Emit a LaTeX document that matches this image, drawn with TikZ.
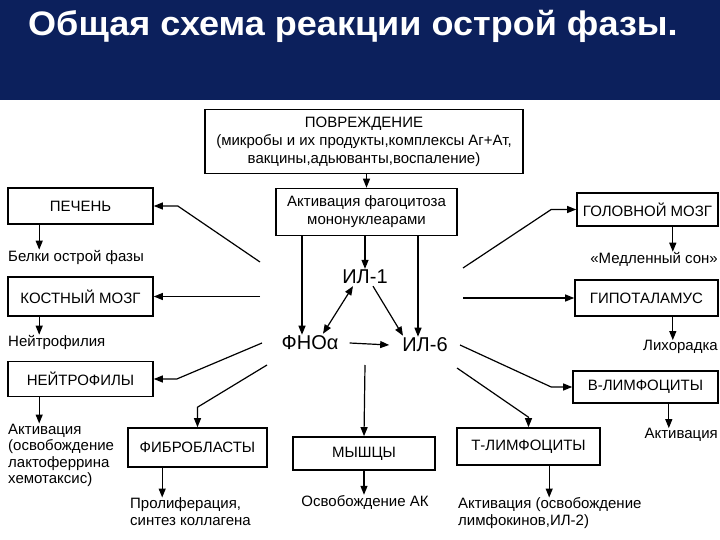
\documentclass[tikz,border=0pt]{standalone}
\usepackage{fontspec}
\setmainfont{Liberation Sans}
\usetikzlibrary{arrows.meta,calc}
\definecolor{navy}{RGB}{12,32,92}
\begin{document}
\begin{tikzpicture}[x=1pt,y=-1pt,
  box/.style={draw, line width=1.6pt, inner sep=0pt, align=center, font=\fontsize{15}{18}\selectfont},
  arr/.style={line width=1.2pt, -{Triangle[length=9pt,width=7pt]}},
  darr/.style={line width=1.2pt, {Triangle[length=9pt,width=7pt]}-{Triangle[length=9pt,width=7pt]}},
  lbl/.style={inner sep=0pt, align=left, font=\fontsize{15}{16.5}\selectfont},
  big/.style={inner sep=1pt, font=\fontsize{20}{24}\selectfont}]
\useasboundingbox (0,0) rectangle (720,540);
\fill[navy] (0,0) rectangle (720,100);
\node[anchor=base west, text=white, inner sep=0pt, font=\fontsize{34}{40}\selectfont\bfseries] (title) at (28,36) {\scalebox{1.06}[1]{Общая схема реакции острой фазы.}};

% boxes
\node[box, minimum width=318pt, minimum height=64pt] (top) at (364,141.5) {ПОВРЕЖДЕНИЕ\\(микробы и их продукты,комплексы Аг+Ат,\\вакцины,адьюванты,воспаление)};
\node[box, minimum width=181pt, minimum height=47pt] (act) at (366.5,212) {Активация фагоцитоза\\мононуклеарами};
\node[box, minimum width=145pt, minimum height=36pt] (pech) at (80.5,206) {ПЕЧЕНЬ};
\node[box, minimum width=145pt, minimum height=39pt] (kost) at (80.5,296.5) {КОСТНЫЙ МОЗГ};
\node[box, minimum width=145pt, minimum height=35pt] (neit) at (80.5,379) {НЕЙТРОФИЛЫ};
\node[box, minimum width=139pt, minimum height=39pt] (fib) at (197.5,447.5) {ФИБРОБЛАСТЫ};
\node[box, minimum width=142pt, minimum height=33pt] (mysh) at (364,453.5) {МЫШЦЫ};
\node[box, minimum width=143pt, minimum height=37pt] (tlim) at (528.5,446.5) {Т-ЛИМФОЦИТЫ};
\node[box, minimum width=141pt, minimum height=33pt] (golov) at (647.5,209.5) {ГОЛОВНОЙ МОЗГ};
\node[box, minimum width=143pt, minimum height=36pt] (gipo) at (646.5,298) {ГИПОТАЛАМУС};
\node[box, minimum width=145pt, minimum height=32pt] (blim) at (645.5,387) {В-ЛИМФОЦИТЫ};

% center labels
\node[big] (il1) at (365,277) {ИЛ-1};
\node[big] (fno) at (310,343) {ФНОα};
\node[big] (il6) at (425,345) {ИЛ-6};

% outcome texts
\node[lbl, anchor=west] (bel) at (8,257) {Белки острой фазы};
\node[lbl, anchor=west] (neu) at (8,342) {Нейтрофилия};
\node[lbl, anchor=north west] (nact) at (8,423.5) {Активация\\(освобождение\\лактоферрина\\хемотаксис)};
\node[lbl, anchor=north west] (prol) at (130,497.5) {Пролиферация,\\синтез коллагена};
\node[lbl] (osv) at (365,502) {Освобождение АК};
\node[lbl, anchor=north west] (tact) at (458,497.5) {Активация (освобождение\\лимфокинов,ИЛ-2)};
\node[lbl, anchor=east] (sleep) at (718,259) {«Медленный сон»};
\node[lbl, anchor=east] (lih) at (718,347) {Лихорадка};
\node[lbl, anchor=east] (bact) at (718,435) {Активация};

% free start points of radiating connectors
\coordinate (sp) at (260,262);
\coordinate (sk) at (260,296.5);
\coordinate (sn) at (262,343);
\coordinate (sf) at (267,365);
\coordinate (sg) at (463,268);
\coordinate (sh) at (463,298);
\coordinate (sb) at (460,345);
\coordinate (st) at (457,368);
\coordinate (sm) at (365,365);

% main flow
\draw[arr] (top.south -| act.north) -- (act.north);
\draw[arr] (act.south -| il1.north) -- (il1.north);
\draw[arr] ([xshift=-8pt]act.south -| fno.north) -- ([xshift=-8pt]fno.north);
\draw[arr] ([xshift=-7pt]act.south -| il6.north) -- ([xshift=-7pt]il6.north);
\draw[darr] ([shift={(-12pt,-1pt)}]il1.south) -- ([shift={(13pt,1pt)}]fno.north);
\draw[arr] ([shift={(8pt,-1pt)}]il1.south) -- ([shift={(-22pt,1pt)}]il6.north);
\draw[arr] (fno.east) ++(10pt,0) -- ([xshift=-12pt]il6.west);

% radiating connectors
\draw[arr] (sp) -- ([xshift=24pt]pech.east) -- (pech.east);
\draw[arr] (sk) -- (kost.east);
\draw[arr] (sn) -- ([xshift=23pt]neit.east) -- (neit.east);
\draw[arr] (sf) -- ([yshift=20pt]fib.north) -- (fib.north);
\draw[arr] (sm) -- (mysh.north);
\draw[arr] (st) -- ([yshift=10pt]tlim.north) -- (tlim.north);
\draw[arr] (sg) -- ([xshift=-25pt]golov.west) -- (golov.west);
\draw[arr] (sh) -- (gipo.west);
\draw[arr] (sb) -- ([xshift=-21pt]blim.west) -- (blim.west);

% outcome arrows
\draw[arr] ([xshift=32pt]pech.south west) -- ([xshift=32pt]pech.south west |- bel.north);
\draw[arr] ([xshift=32pt]kost.south west) -- ([xshift=32pt]kost.south west |- neu.north);
\draw[arr] ([xshift=32pt]neit.south west) -- ([xshift=32pt]neit.south west |- nact.north);
\draw[arr] ([xshift=35pt]fib.south west) -- ([xshift=35pt]fib.south west |- prol.north);
\draw[arr] (mysh.south) -- (mysh.south |- osv.north);
\draw[arr] ([xshift=93pt]tlim.south west) -- ([xshift=93pt]tlim.south west |- tact.north);
\draw[arr] ([xshift=-46pt]golov.south east) -- ([xshift=-46pt]golov.south east |- sleep.north);
\draw[arr] ([xshift=-46pt]gipo.south east) -- ([xshift=-46pt]gipo.south east |- lih.north);
\draw[arr] ([xshift=-50pt]blim.south east) -- ([xshift=-50pt]blim.south east |- bact.north);
\end{tikzpicture}
\end{document}
